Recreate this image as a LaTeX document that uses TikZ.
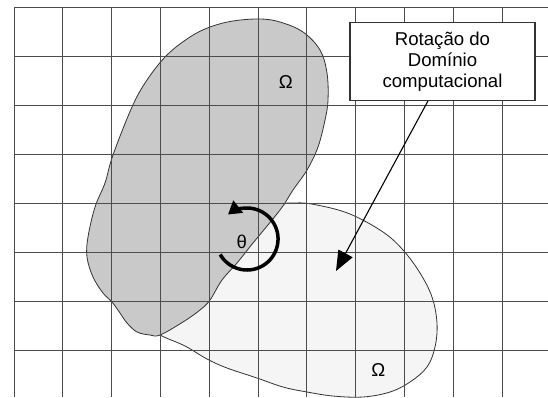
\documentclass[tikz,border=0pt]{standalone}
\usepackage{fontspec}
\setmainfont{Liberation Sans}
\usetikzlibrary{arrows.meta,calc}
\tikzset{
  gridline/.style={draw=black!70, line width=0.95pt},
  blob/.style={draw=black!80, line width=0.8pt},
  labeltext/.style={font=\fontsize{18.6}{21}\selectfont, inner sep=0pt},
  callout/.style={draw=black!80, line width=1.3pt, fill=white, minimum width=185pt, minimum height=77.5pt, align=center, font=\fontsize{18.6}{21}\selectfont, inner sep=2pt},
  pointer/.style={line width=1.1pt, -{Triangle[length=20pt,width=16pt]}},
  turn/.style={line width=3.5pt, -{Triangle[length=13pt,width=15pt]}}
}
\begin{document}
\begin{tikzpicture}[x=1pt,y=-1pt]
\useasboundingbox (0,0) rectangle (548,397);
% light (rotated) domain
\path[blob, fill=black!4] plot[smooth cycle, tension=0.6] coordinates {
 (295,203) (317,205) (350,214) (383,232) (403,250) (420,273) (432,297) (437,323)
 (435,347) (427,367) (410,382) (390,392) (363,397) (333,396) (307,392) (283,387)
 (257,378) (227,368) (207,359) (185,346) (160,335)
 (140,322) (200,290) (248,245) (278,208)};
% dark (original) domain
\path[blob, fill=black!21] plot[smooth cycle, tension=0.6] coordinates {
 (233,21) (260,19) (280,22) (303,32) (320,50) (327,73) (328,100) (325,120)
 (318,147) (307,170) (293,190) (280,210) (253,243) (237,263) (222,280)
 (210,300) (200,310) (183,322) (160,335) (150,335) (137,332) (127,323)
 (120,313) (112,302) (103,293) (93,277) (87,257) (88,237) (95,207) (105,183)
 (113,155) (132,107) (147,80) (167,55) (190,37) (210,27)};
% grid
\foreach \i in {0,...,10} {
  \draw[gridline] ({14+48.8*\i},7) -- ({14+48.8*\i},397);
}
\foreach \j in {0,...,7} {
  \draw[gridline] (14,{7.3+49*\j}) -- (548,{7.3+49*\j});
}
% labels
\node[labeltext] (omegaA) at (285.7,82.3) {Ω};
\node[labeltext] (omegaB) at (378.3,370) {Ω};
\node[labeltext] (theta) at (241.7,241.7) {θ};
% rotation arrow
\draw[turn] (220.2,254.5) arc[start angle=210, end angle=488, radius=31pt];
% callout
\node[callout] (box) at (442.5,61.5) {Rotação do\\Domínio\\computacional};
\coordinate (tipA) at (336,271);
\draw[pointer] ($(box.south)+(-14.5,0)$) -- (tipA);
\end{tikzpicture}
\end{document}
